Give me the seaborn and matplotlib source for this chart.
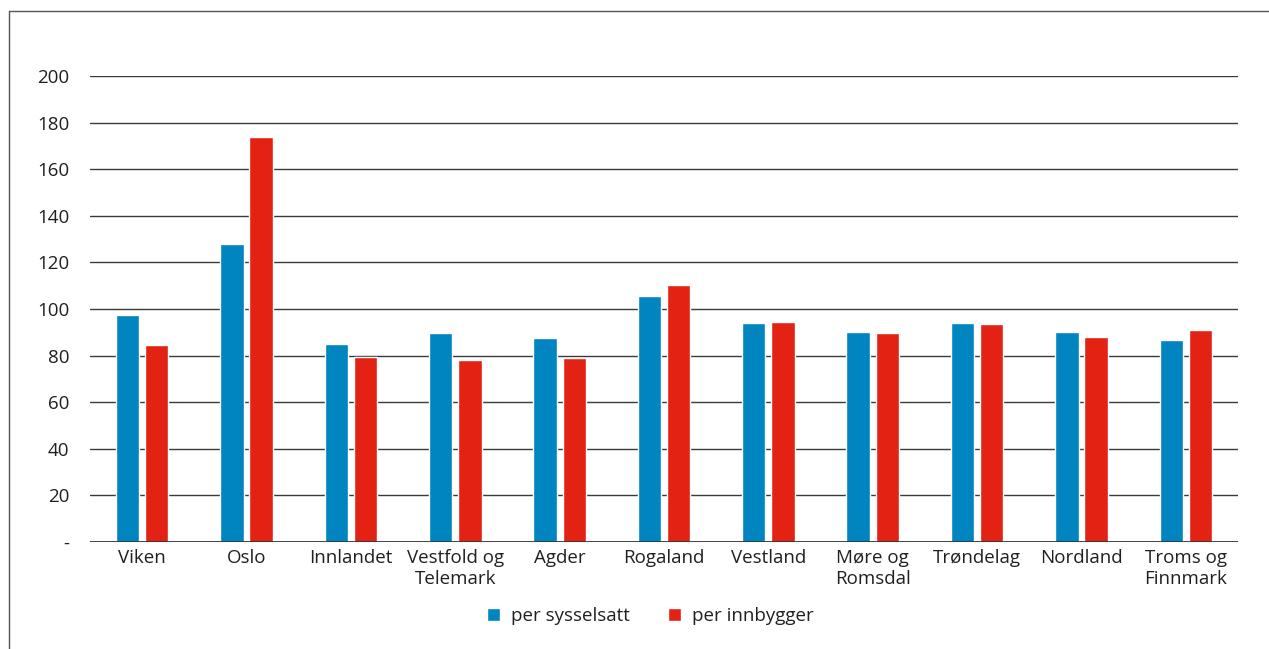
import numpy as np
import matplotlib
matplotlib.use("Agg")
import matplotlib.pyplot as plt
import pandas as pd
import seaborn as sns

regions = ["Viken", "Oslo", "Innlandet", "Vestfold og\nTelemark", "Agder", "Rogaland",
           "Vestland", "Møre og\nRomsdal", "Trøndelag", "Nordland", "Troms og\nFinnmark"]
per_sysselsatt = [97.6, 127.9, 85.0, 89.8, 87.6, 105.7, 94.1, 90.2, 94.1, 90.2, 86.8]
per_innbygger = [84.6, 173.9, 79.3, 78.3, 78.9, 110.4, 94.6, 89.9, 93.6, 88.1, 91.1]
series = ["per sysselsatt", "per innbygger"]
yticks = [0, 20, 40, 60, 80, 100, 120, 140, 160, 180, 200]
ytick_labels = ["-"] + [str(v) for v in yticks[1:]]

df = pd.DataFrame({
    "region": regions * 2,
    "value": per_sysselsatt + per_innbygger,
    "serie": [series[0]] * len(regions) + [series[1]] * len(regions),
})

sns.set_style("white")
plt.rcParams['font.family'] = ['Open Sans', 'DejaVu Sans']
txt = "#231f20"

fig = plt.figure(figsize=(12.69, 6.49), dpi=100)
ax = fig.add_axes([90 / 1269, 1 - 542 / 649, 1148 / 1269, 466 / 649])

sns.barplot(data=df, x="region", y="value", hue="serie", order=regions,
            palette=["#0085c0", "#e32213"], width=0.56, gap=0.2,
            saturation=1, ax=ax, legend=True)

ax.set_ylim(0, 200)
ax.set_xlim(-0.5, len(regions) - 0.5)
ax.set_yticks(yticks)
ax.set_yticklabels(ytick_labels)
for y in yticks:
    ax.axhline(y, color="#3a3a3a", lw=1.0, zorder=0)
ax.axhline(0, color="#2a2a2a", lw=1.2, zorder=3)
for s in ax.spines.values():
    s.set_visible(False)
ax.tick_params(axis="both", length=0, labelsize=13.5, colors=txt, pad=5)
ax.tick_params(axis="y", pad=15)
ax.set_xlabel("")
ax.set_ylabel("")

ax.legend(loc="upper center", bbox_to_anchor=(0.488, -0.104), ncol=2, frameon=False,
          fontsize=13.5, handlelength=0.7, handleheight=0.7, handletextpad=0.6,
          columnspacing=2.0, labelcolor=txt)

# outer frame (top and left edges)
fig.add_artist(plt.Line2D([9 / 1269, 1], [1 - 11 / 649] * 2, color="#555555", lw=1.0))
fig.add_artist(plt.Line2D([9 / 1269] * 2, [0, 1 - 11 / 649], color="#555555", lw=1.0))

fig.savefig("out.png", dpi=100)
